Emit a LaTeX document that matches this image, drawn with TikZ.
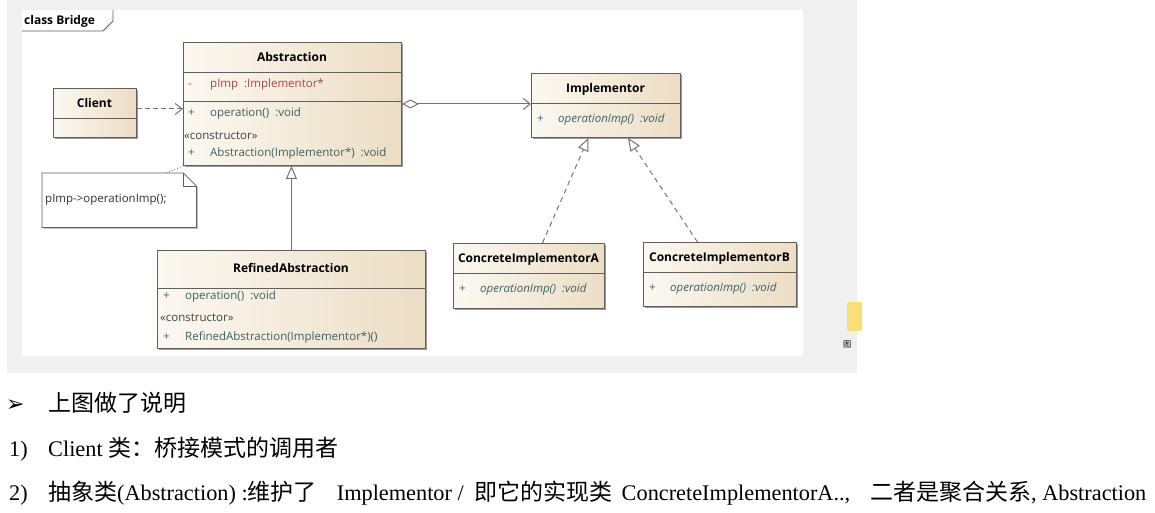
\documentclass[tikz,border=0pt]{standalone}
\usepackage{fontspec}
\setmainfont{Liberation Serif}
\newfontfamily\cjk{Noto Sans CJK SC}[Scale=1.03]
\newfontfamily\umlfont{Open Sans}
\newfontfamily\symfont{DejaVu Sans}
\usetikzlibrary{arrows.meta,shadows,calc}
\definecolor{panelgray}{RGB}{240,240,240}
\definecolor{boxlight}{RGB}{252,248,241}
\definecolor{boxtan}{RGB}{236,221,196}
\definecolor{boxline}{RGB}{95,95,95}
\definecolor{attrred}{RGB}{168,72,72}
\definecolor{methteal}{RGB}{58,98,98}
\definecolor{linkgray}{RGB}{115,115,115}
\definecolor{folderyellow}{RGB}{250,222,120}
\newcommand{\cjkgap}{\hspace{9pt}}

\tikzset{
  umlclass/.style={draw=boxline, line width=0.9pt, left color=boxlight, right color=boxtan,
    drop shadow={shadow xshift=1.8pt, shadow yshift=-1.8pt, fill=black!55, opacity=0.7},
    anchor=north west, inner sep=0pt},
  divider/.style={draw=boxline, line width=0.8pt},
  classname/.style={inner sep=0pt, font=\umlfont\bfseries\fontsize{12}{14}\selectfont},
  member/.style={anchor=west, inner sep=0pt, text=methteal, font=\umlfont\fontsize{11.5}{13}\selectfont},
  attribute/.style={member, text=attrred},
  stereo/.style={member, text=black!75},
  link/.style={draw=linkgray, line width=1pt},
  bodytext/.style={anchor=base west, inner sep=0pt, font=\fontsize{22.3}{26}\selectfont}
}

\begin{document}
\begin{tikzpicture}[x=1pt,y=-1pt]
\useasboundingbox (0,0) rectangle (1155,513);

% ================= BACKGROUND =================
\fill[panelgray] (7,0) rectangle (857,373);
\fill[white] (22,10) rectangle (803,356);

% frame tab
\draw[boxline, line width=0.8pt] (22,31) -- (103,31) -- (113,21) -- (113,10);
\node[classname, anchor=west] (frame) at (24,21) {class Bridge};

% ================= CLIENT =================
\node[umlclass, minimum width=83pt, minimum height=49pt] (client) at (53,88) {};
\node[classname] (client-name) at (94.5,103) {Client};
\draw[divider] ([yshift=-30pt]client.north west) -- ([yshift=-30pt]client.north east);

% ================= ABSTRACTION =================
\node[umlclass, minimum width=218pt, minimum height=123pt] (abstr) at (183,42) {};
\node[classname] (abstr-name) at (292,57) {Abstraction};
\draw[divider] ([yshift=-30pt]abstr.north west) -- ([yshift=-30pt]abstr.north east);
\draw[divider] ([yshift=-59pt]abstr.north west) -- ([yshift=-59pt]abstr.north east);
\node[attribute] (abstr-a1) at (188,85) {\makebox[22pt][l]{-}pImp\ \ :Implementor*};
\node[member] (abstr-m1) at (188,114) {\makebox[22pt][l]{+}operation()\ \ :void};
\node[stereo] (abstr-c) at (184,136) {«constructor»};
\node[member] (abstr-m2) at (188,154) {\makebox[22pt][l]{+}Abstraction(Implementor*)\ \ :void};

% ================= NOTE =================
\node[minimum width=154pt, minimum height=54pt, anchor=north west, inner sep=0pt] (note) at (42,173) {};
\draw[boxline, line width=0.8pt, fill=white,
  drop shadow={shadow xshift=1.5pt, shadow yshift=-1.5pt, fill=black!40, opacity=0.6}]
  (note.north west) -- ([xshift=-13pt]note.north east) -- ([yshift=-13pt]note.north east)
  -- (note.south east) -- (note.south west) -- cycle;
\draw[boxline, line width=0.7pt] ([xshift=-13pt]note.north east) |- ([yshift=-13pt]note.north east);
\node[member, text=black!80] (note-text) at (45,200) {pImp->operationImp();};

% ================= REFINED ABSTRACTION =================
\node[umlclass, minimum width=268pt, minimum height=98pt] (refined) at (157,250) {};
\node[classname] (refined-name) at (291,268) {RefinedAbstraction};
\draw[divider] ([yshift=-38pt]refined.north west) -- ([yshift=-38pt]refined.north east);
\node[member] (refined-m1) at (163,297) {\makebox[22pt][l]{+}operation()\ \ :void};
\node[stereo] (refined-c) at (160,318) {«constructor»};
\node[member] (refined-m2) at (163,337) {\makebox[22pt][l]{+}RefinedAbstraction(Implementor*)()};

% ================= IMPLEMENTOR =================
\node[umlclass, minimum width=149pt, minimum height=64pt] (impl) at (531,73) {};
\node[classname] (impl-name) at (605.5,89) {Implementor};
\draw[divider] ([yshift=-30pt]impl.north west) -- ([yshift=-30pt]impl.north east);
\node[member] (impl-m1) at (537,120) {\makebox[21pt][l]{+}\itshape operationImp()\ \ :void};

% ================= CONCRETE IMPLEMENTORS =================
\node[umlclass, minimum width=151pt, minimum height=65pt] (cia) at (453,243) {};
\node[classname] (cia-name) at (528.5,259) {ConcreteImplementorA};
\draw[divider] ([yshift=-30pt]cia.north west) -- ([yshift=-30pt]cia.north east);
\node[member] (cia-m1) at (459,290) {\makebox[21pt][l]{+}\itshape operationImp()\ \ :void};

\node[umlclass, minimum width=153pt, minimum height=64pt] (cib) at (643,242) {};
\node[classname] (cib-name) at (719.5,258) {ConcreteImplementorB};
\draw[divider] ([yshift=-30pt]cib.north west) -- ([yshift=-30pt]cib.north east);
\node[member] (cib-m1) at (649,289) {\makebox[21pt][l]{+}\itshape operationImp()\ \ :void};

% ================= CONNECTORS =================
\draw[link, dashed, dash pattern=on 5pt off 3pt, -{Straight Barb[length=7pt,width=11pt]}]
  ([yshift=4pt]client.east) -- ([yshift=4pt]client.east -| abstr.west);
\draw[link, {Diamond[open,fill=white,length=17pt,width=9pt]}-{Straight Barb[length=7pt,width=11pt]}]
  (abstr.east) -- (abstr.east -| impl.west);
\draw[link, -{Triangle[open,fill=white,length=13pt,width=11pt]}]
  (refined.north) -- (refined.north |- abstr.south);
\draw[link, dashed, dash pattern=on 5pt off 4pt, -{Triangle[open,fill=white,length=13pt,width=11pt]}]
  ([xshift=13.5pt]cia.north) -- ([xshift=-17.5pt]impl.south);
\draw[link, dashed, dash pattern=on 5pt off 4pt, -{Triangle[open,fill=white,length=13pt,width=11pt]}]
  ([xshift=-22.5pt]cib.north) -- ([xshift=22pt]impl.south);
\draw[linkgray, line width=0.9pt, dotted] ([xshift=-30pt]note.north east) -- (abstr.south west);

% ================= FOLDER ICON =================
\fill[folderyellow, rounded corners=2pt] (847,302) rectangle (862,331);
\node[inner sep=0pt, anchor=west, font=\cjk\fontsize{8}{8}\selectfont] (folder-label) at (843,345) {图};

% ================= TEXT BELOW =================
\node[bodytext, font=\symfont\bfseries\fontsize{22}{24}\selectfont] (bullet) at (6,411) {➢};
\node[bodytext] (line0) at (48,411) {{\cjk 上图做了说明}};
\node[bodytext] (num1) at (9,456) {1)};
\node[bodytext] (line1) at (48,456) {Client {\cjk 类：桥接模式的调用者}};
\node[bodytext] (num2) at (9,500) {2)};
\node[bodytext] (line2) at (48,500)
  {{\cjk 抽象类}(Abstraction) :{\cjk 维护了}\cjkgap\ \ Implementor /\ \ {\cjk 即它的实现类}\cjkgap ConcreteImplementorA..,\ \ \cjkgap{\cjk 二者是聚合关系}, Abstraction};

\end{tikzpicture}
\end{document}
